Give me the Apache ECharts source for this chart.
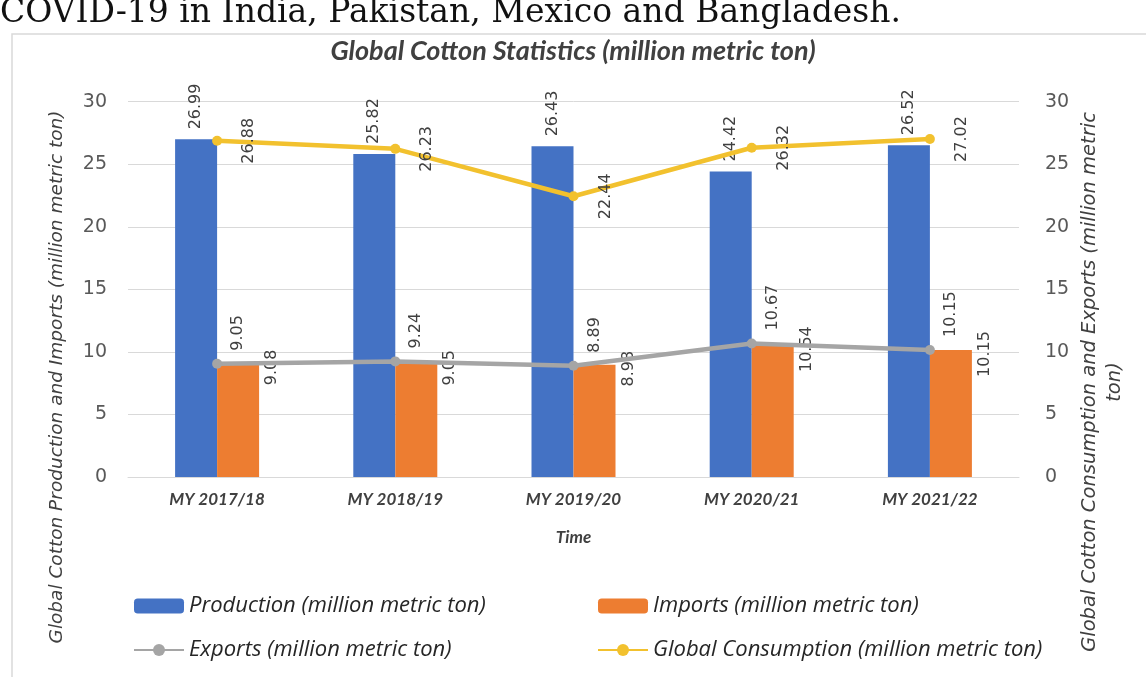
<!DOCTYPE html>
<html><head><meta charset="utf-8">
<script src="https://cdn.jsdelivr.net/npm/echarts@6/dist/echarts.min.js"></script>
<style>html,body{margin:0;padding:0;background:#fff;overflow:hidden}#c{width:1146px;height:677px}</style>
</head><body><div id="c"></div>
<script>
const categories = ['MY 2017/18', 'MY 2018/19', 'MY 2019/20', 'MY 2020/21', 'MY 2021/22'];
const production = [26.99, 25.82, 26.43, 24.42, 26.52];
const imports = [9.08, 9.05, 8.98, 10.54, 10.15];
const exportsData = [9.05, 9.24, 8.89, 10.67, 10.15];
const consumption = [26.88, 26.23, 22.44, 26.32, 27.02];
const axisMin = 0, axisMax = 30, axisStep = 5;

const chart = echarts.init(document.getElementById('c'), null, {renderer: 'canvas'});
const lblFont = {fontFamily: 'DejaVu Sans', fontSize: 16, color: '#404040'};
const fmt = p => p.value.toFixed(2);
const legendText = {fontFamily: 'Open Sans', fontStyle: 'italic', fontSize: 22, color: '#262626'};

chart.setOption({
  animation: false,
  backgroundColor: '#fff',
  title: {
    text: 'Global Cotton Statistics (million metric ton)',
    left: 'center', top: 33,
    textStyle: {fontFamily: 'Lato', fontStyle: 'italic', fontWeight: 'bold', fontSize: 27, color: '#404040'}
  },
  graphic: [
    {type: 'rect', shape: {x: 12, y: 34, width: 1160, height: 660}, style: {fill: 'none', stroke: '#d9d9d9', lineWidth: 1.5}, z: -10},
    {type: 'text', x: 0, y: 30, style: {text: 'COVID-19 in India, Pakistan, Mexico and Bangladesh.', font: '33px "DejaVu Serif"', fill: '#111', textVerticalAlign: 'bottom'}},
    {type: 'text', x: 57, y: 377, rotation: Math.PI / 2, style: {text: 'Global Cotton Production and Imports (million metric ton)', font: 'italic 18.5px "DejaVu Sans"', fill: '#404040', textAlign: 'center', textVerticalAlign: 'middle'}},
    {type: 'text', x: 1102, y: 382, rotation: Math.PI / 2, style: {text: 'Global Cotton Consumption and Exports (million metric\nton)', font: 'italic 19.5px "DejaVu Sans"', fill: '#404040', textAlign: 'center', textVerticalAlign: 'middle', lineHeight: 25}}
  ],
  grid: {left: 128, right: 127, top: 101.7, bottom: 200, containLabel: false},
  legend: [
    {orient: 'vertical', left: 128, top: 590, itemGap: 22, itemWidth: 50, itemHeight: 15,
     data: ['Production (million metric ton)', 'Exports (million metric ton)'], textStyle: legendText},
    {orient: 'vertical', left: 592, top: 590, itemGap: 22, itemWidth: 50, itemHeight: 15,
     data: ['Imports (million metric ton)', 'Global Consumption (million metric ton)'], textStyle: legendText}
  ],
  xAxis: {
    type: 'category', data: categories,
    axisTick: {show: false},
    axisLine: {lineStyle: {color: '#d9d9d9', width: 1}},
    axisLabel: {margin: 14, fontFamily: 'Lato', fontStyle: 'italic', fontWeight: 'bold', fontSize: 17, color: '#404040'},
    name: 'Time', nameLocation: 'middle', nameGap: 52,
    nameTextStyle: {fontFamily: 'Lato', fontStyle: 'italic', fontWeight: 'bold', fontSize: 17, color: '#404040'}
  },
  yAxis: [
    {type: 'value', min: axisMin, max: axisMax, interval: axisStep,
     axisLine: {show: false}, axisTick: {show: false},
     splitLine: {lineStyle: {color: '#d9d9d9', width: 1}},
     axisLabel: {margin: 21, fontFamily: 'DejaVu Sans', fontSize: 19, color: '#595959'}},
    {type: 'value', min: axisMin, max: axisMax, interval: axisStep,
     axisLine: {show: false}, axisTick: {show: false}, splitLine: {show: false},
     axisLabel: {margin: 26, fontFamily: 'DejaVu Sans', fontSize: 19, color: '#595959'}}
  ],
  series: [
    {name: 'Production (million metric ton)', type: 'bar', data: production, yAxisIndex: 0,
     barWidth: 42, barGap: '0%', itemStyle: {color: '#4472C4'}, z: 2,
     label: Object.assign({show: true, position: 'top', distance: 10, rotate: 90, align: 'left', verticalAlign: 'middle', formatter: fmt}, lblFont)},
    {name: 'Imports (million metric ton)', type: 'bar', data: imports, yAxisIndex: 0,
     barWidth: 42, barGap: '0%', itemStyle: {color: '#ED7D31'}, z: 2,
     label: Object.assign({show: true, position: ['100%', 0], rotate: 90, align: 'center', verticalAlign: 'middle', offset: [-4, 13], formatter: fmt}, lblFont)},
    {name: 'Exports (million metric ton)', type: 'line', data: exportsData, yAxisIndex: 1,
     symbol: 'circle', symbolSize: 10, z: 5,
     lineStyle: {color: '#A5A5A5', width: 4.5}, itemStyle: {color: '#A5A5A5'},
     label: Object.assign({show: true, position: 'top', distance: 8, rotate: 90, align: 'left', verticalAlign: 'middle', offset: [0, 21], formatter: fmt}, lblFont)},
    {name: 'Global Consumption (million metric ton)', type: 'line', data: consumption, yAxisIndex: 1,
     symbol: 'circle', symbolSize: 10, z: 6,
     lineStyle: {color: '#F2C12E', width: 4.5}, itemStyle: {color: '#F2C12E'},
     label: Object.assign({show: true, position: 'right', distance: 27, rotate: 90, align: 'center', verticalAlign: 'middle', formatter: fmt}, lblFont)}
  ]
});
</script></body></html>
